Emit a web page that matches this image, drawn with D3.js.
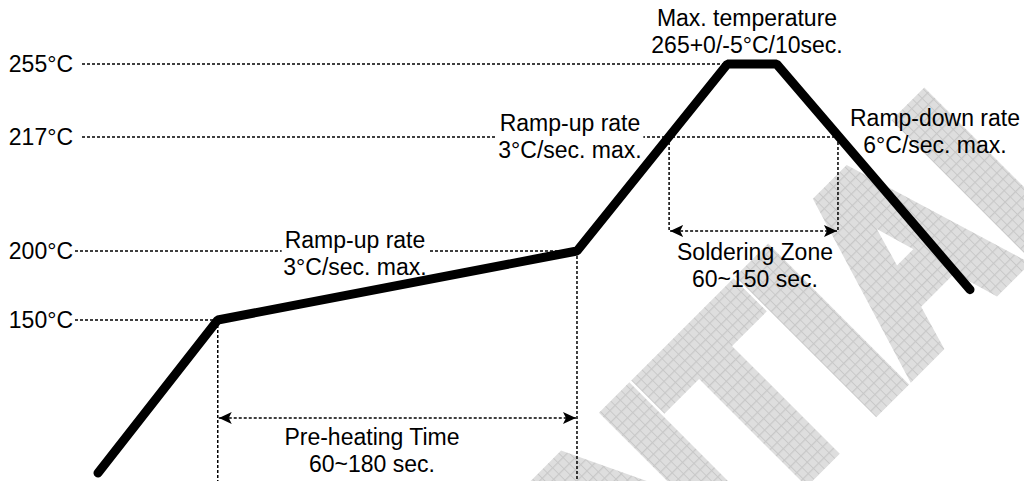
<!DOCTYPE html>
<html>
<head>
<meta charset="utf-8">
<script src="https://cdn.jsdelivr.net/npm/d3@7"></script>
<style>
  body { margin: 0; background: #fff; }
  svg { display: block; font-family: "Liberation Sans", Arial, sans-serif; }
</style>
</head>
<body>
<div id="chart"></div>
<script>
// reflow profile (time in s, temperature in °C) - schematic
var profileTime = [0, 39, 156, 205, 221, 284];
var profileTemp = [25, 150, 200, 255, 255, 172];

// reference temperatures and the time where each dashed line stops
var refTemps = [255, 217, 200, 150];
var refLabels = ["255°C", "217°C", "200°C", "150°C"];
var refEndTime = [205, 241, 156, 39];

var preheatZone = [39, 156];
var solderZone = [186, 241];

var width = 1024, height = 481;
var fontSize = 23;

var svg = d3.select("#chart").append("svg")
  .attr("width", width)
  .attr("height", height);

// time axis is linear, temperature axis is drawn piecewise (not to scale)
var x = d3.scaleLinear().domain([0, 284]).range([98, 970]);
var y = d3.scaleLinear()
  .domain([25, 150, 200, 217, 255])
  .range([473, 320, 251, 137, 64]);

var defs = svg.append("defs");

var pat = defs.append("pattern")
  .attr("id", "hatch")
  .attr("patternUnits", "userSpaceOnUse")
  .attr("width", 8)
  .attr("height", 8);
pat.append("rect").attr("width", 8).attr("height", 8).attr("fill", "#dedede");
pat.append("path").attr("d", "M0,0.5H8M0.5,0V8").attr("stroke", "#c8c8c8").attr("stroke-width", 1);

["arrowEnd", "arrowStart"].forEach(function(id, i) {
  defs.append("marker")
    .attr("id", id)
    .attr("markerUnits", "userSpaceOnUse")
    .attr("viewBox", "0 -6 13 12")
    .attr("refX", 13)
    .attr("refY", 0)
    .attr("markerWidth", 13)
    .attr("markerHeight", 12)
    .attr("orient", i == 0 ? "auto" : "auto-start-reverse")
    .append("path")
    .attr("d", "M0,-6L13,0L0,6L3,0Z")
    .attr("fill", "#000");
});

// watermark, placed so the "T" stem sits where it does in the picture
var wm = svg.append("text")
  .text("CONFIDENTIAL")
  .attr("font-size", 240)
  .attr("font-weight", "bold")
  .attr("fill", "url(#hatch)")
  .attr("stroke", "url(#hatch)")
  .attr("stroke-width", 16)
  .attr("stroke-linejoin", "miter");
var tBox = wm.node().getExtentOfChar(8);
var tCenter = tBox.x + tBox.width / 2;
wm.attr("transform", "translate(817,464) rotate(-45) scale(0.92,1.1) translate(" + (-tCenter) + ",0)");

var dash = "3,2";

// horizontal reference lines
var refG = svg.append("g");
refTemps.forEach(function(t, i) {
  var startX = t > 210 ? 82 : 75;
  refG.append("line")
    .attr("x1", startX)
    .attr("x2", x(refEndTime[i]))
    .attr("y1", y(t))
    .attr("y2", y(t))
    .attr("stroke", "#000")
    .attr("stroke-width", 1.5)
    .attr("stroke-dasharray", dash);
  refG.append("text")
    .attr("x", 73)
    .attr("y", y(t) + 8)
    .attr("text-anchor", "end")
    .attr("font-size", fontSize)
    .text(refLabels[i]);
});

// vertical guides
var guides = [
  { t: preheatZone[0], from: 150, to: height },
  { t: preheatZone[1], from: 200, to: height },
  { t: solderZone[0], from: 217, to: 231 },
  { t: solderZone[1], from: 217, to: 231 }
];
svg.append("g").selectAll("line")
  .data(guides)
  .enter().append("line")
  .attr("x1", function(d) { return x(d.t); })
  .attr("x2", function(d) { return x(d.t); })
  .attr("y1", function(d) { return y(d.from); })
  .attr("y2", function(d) { return d.to; })
  .attr("stroke", "#000")
  .attr("stroke-width", 1.5)
  .attr("stroke-dasharray", dash);

// double arrows
var arrows = [
  { zone: preheatZone, row: 418 },
  { zone: solderZone, row: 231 }
];
svg.append("g").selectAll("line")
  .data(arrows)
  .enter().append("line")
  .attr("x1", function(d) { return x(d.zone[0]) + 1; })
  .attr("x2", function(d) { return x(d.zone[1]) - 1; })
  .attr("y1", function(d) { return d.row; })
  .attr("y2", function(d) { return d.row; })
  .attr("stroke", "#000")
  .attr("stroke-width", 1.5)
  .attr("stroke-dasharray", dash)
  .attr("marker-start", "url(#arrowStart)")
  .attr("marker-end", "url(#arrowEnd)");

// annotation text
var notes = [
  { lines: ["Max. temperature", "265+0/-5°C/10sec."], x: 747, y: 26, box: false },
  { lines: ["Ramp-up rate", "3°C/sec. max."], x: 570, y: 131, box: true },
  { lines: ["Ramp-up rate", "3°C/sec. max."], x: 355, y: 248, box: true },
  { lines: ["Ramp-down rate", "6°C/sec. max."], x: 935, y: 126, box: false },
  { lines: ["Soldering Zone", "60~150 sec."], x: 755, y: 260, box: false },
  { lines: ["Pre-heating Time", "60~180 sec."], x: 372, y: 445, box: false }
];

var noteG = svg.append("g");
notes.forEach(function(n) {
  var t = noteG.append("text")
    .attr("text-anchor", "middle")
    .attr("font-size", fontSize)
    .attr("fill", "#000");
  n.lines.forEach(function(l, i) {
    t.append("tspan")
      .attr("x", n.x)
      .attr("y", n.y + i * 27)
      .text(l);
  });
  if (n.box) {
    var w = t.select("tspan").node().getComputedTextLength();
    noteG.insert("rect", "text")
      .attr("x", n.x - w / 2 - 3)
      .attr("y", n.y - 18)
      .attr("width", w + 6)
      .attr("height", 25)
      .attr("fill", "#fff");
  }
});

// the profile itself
var line = d3.line()
  .x(function(d) { return x(d[0]); })
  .y(function(d) { return y(d[1]); });

svg.insert("path", "g:last-of-type")
  .datum(d3.zip(profileTime, profileTemp))
  .attr("d", line)
  .attr("fill", "none")
  .attr("stroke", "#000")
  .attr("stroke-width", 9)
  .attr("stroke-linejoin", "bevel")
  .attr("stroke-linecap", "round");
</script>
</body>
</html>
